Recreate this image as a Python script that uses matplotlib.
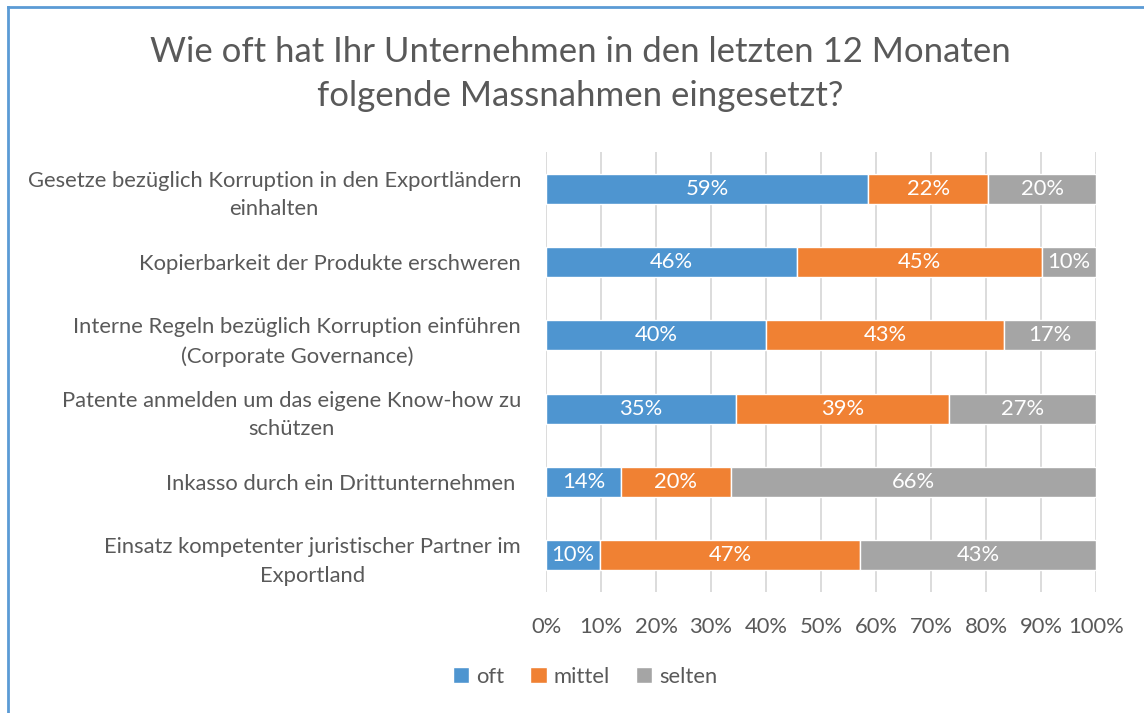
import matplotlib.pyplot as plt
import numpy as np
from matplotlib.lines import Line2D

plt.rcParams['font.family'] = ['Lato', 'DejaVu Sans']

categories = [
    'Gesetze bezüglich Korruption in den Exportländern\neinhalten',
    'Kopierbarkeit der Produkte erschweren',
    'Interne Regeln bezüglich Korruption einführen\n(Corporate Governance)',
    'Patente anmelden um das eigene Know-how zu\nschützen',
    'Inkasso durch ein Drittunternehmen ',
    'Einsatz kompetenter juristischer Partner im\nExportland',
]
oft = [58.6, 45.6, 40.0, 34.6, 13.6, 9.8]
mittel = [21.8, 44.6, 43.3, 38.7, 20.0, 47.3]
selten = [19.6, 9.8, 16.7, 26.7, 66.4, 42.9]
series_names = ['oft', 'mittel', 'selten']
colors = ['#4E95D0', '#F08133', '#A5A5A5']
text_col = '#595959'
fs = 15.8

fig = plt.figure(figsize=(11.44, 7.13), dpi=100)
ax = fig.add_axes([546 / 1144, 1 - 592 / 713, 550 / 1144, 440 / 713])

y = np.arange(len(categories))
left = np.zeros(len(categories))
for vals, name, c in zip([oft, mittel, selten], series_names, colors):
    vals = np.array(vals)
    bars = ax.barh(y, vals, left=left, height=0.41, color=c, label=name,
                   edgecolor='white', linewidth=1, zorder=3)
    for b, v in zip(bars, vals):
        ax.text(b.get_x() + b.get_width() / 2, b.get_y() + b.get_height() / 2,
                f'{v:.0f}%', color='white', ha='center', va='center',
                fontsize=fs, zorder=4)
    left += vals

ax.set_xlim(0, 100)
ax.set_ylim(len(categories) - 0.5, -0.5)
ax.set_xticks(np.arange(0, 101, 10))
ax.set_xticklabels([f'{t}%' for t in range(0, 101, 10)])
ax.set_yticks(y)
ax.set_yticklabels(categories, multialignment='center', linespacing=1.55)
ax.tick_params(axis='both', length=0, labelsize=fs, colors=text_col)
ax.tick_params(axis='x', pad=18)
ax.tick_params(axis='y', pad=18)
ax.grid(axis='x', color='#D9D9D9', linewidth=1.3, zorder=0)
for s in ax.spines.values():
    s.set_visible(False)

fig.text(580 / 1144, 1 - 74 / 713,
         'Wie oft hat Ihr Unternehmen in den letzten 12 Monaten\nfolgende Massnahmen eingesetzt?',
         ha='center', va='center', fontsize=25, color=text_col, linespacing=1.45)

fig.legend(loc='center', bbox_to_anchor=(585 / 1144, 1 - 677 / 713), ncol=3,
           frameon=False, fontsize=fs, labelcolor=text_col, handlelength=0.75,
           handleheight=0.75, handletextpad=0.3, columnspacing=1.2)

# chart border
fig.add_artist(Line2D([8 / 1144, 8 / 1144], [0, 1 - 7 / 713], transform=fig.transFigure,
                      color='#5B9BD5', linewidth=2))
fig.add_artist(Line2D([8 / 1144, 1], [1 - 7 / 713, 1 - 7 / 713], transform=fig.transFigure,
                      color='#5B9BD5', linewidth=2))

fig.savefig('out.png', dpi=100)
